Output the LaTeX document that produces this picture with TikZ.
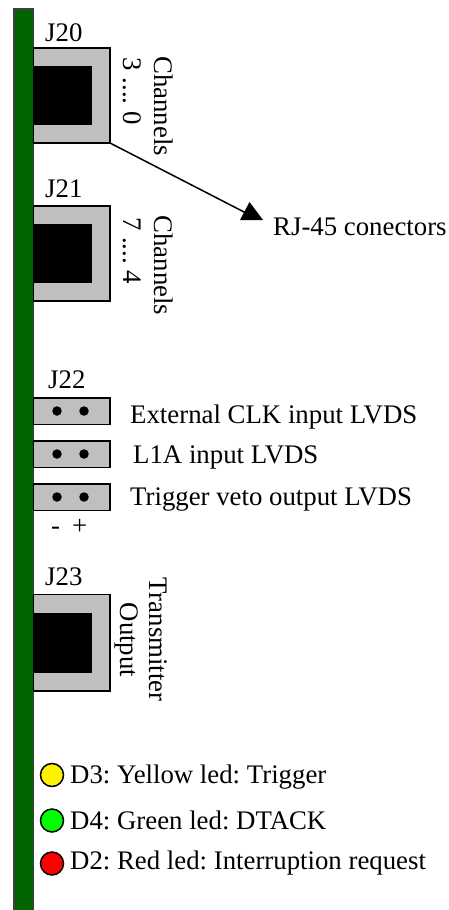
\documentclass[tikz,border=0pt]{standalone}
\usepackage{fontspec}
\setmainfont{Liberation Serif}
\tikzset{
  board/.style={draw=black!75,line width=1.4pt},
  shell/.style={draw=black,line width=1.5pt,fill=black!25},
  hole/.style={fill=black},
  pin/.style={circle,fill=black,inner sep=0pt,minimum size=9.5pt},
  led/.style={circle,draw=black,line width=1.5pt,inner sep=0pt,minimum size=23pt},
  lab/.style={font=\fontsize{26.8}{28}\selectfont\frenchspacing,inner sep=0pt,anchor=base west},
  vlab/.style={font=\fontsize{26.8}{28}\selectfont\frenchspacing,inner sep=0pt,rotate=-90,anchor=center},
}
\definecolor{boardgreen}{RGB}{0,100,0}
\begin{document}
\begin{tikzpicture}[x=1pt,y=-1pt]
\useasboundingbox (0,0) rectangle (448,910);
\fill[white] (0,0) rectangle (448,910);
\path[board,fill=boardgreen] (14,912) -- (14,9) -- (33.5,9) -- (33.5,912);
% J20
\draw[shell] (33.5,48) rectangle (110,143);
\fill[hole] (33.5,66) rectangle (92,125);
\coordinate (j20c) at (110,143);
% J21
\draw[shell] (33.5,206) rectangle (110,301);
\fill[hole] (33.5,224) rectangle (92,283);
% J22
\draw[shell] (33.5,398) rectangle (110,424.5);
\draw[shell] (33.5,441) rectangle (110,467.5);
\draw[shell] (33.5,484) rectangle (110,510.5);
\foreach \y/\n in {411/a,454/b,497/c}{
  \node[pin] (p\n1) at (57,\y) {};
  \node[pin] (p\n2) at (84,\y) {};
}
% J23
\draw[shell] (33.5,594.5) rectangle (110,691);
\fill[hole] (33.5,613) rectangle (92,672.5);
% labels
\node[lab] (j20) at (45,41) {J20};
\node[lab] (j21) at (45,197) {J21};
\node[lab] (j22) at (48,388) {J22};
\node[lab] (j23) at (45,585) {J23};
\node[vlab] (ch0) at (163.5,106) {Channels};
\node[vlab] (ch1) at (163.5,265.5) {Channels};
\node[vlab] (r0) at (132,91) {3 .... 0};
\node[vlab] (r1) at (132,250.5) {7 .... 4};
\node[vlab] (tx) at (158.5,639.5) {Transmitter};
\node[vlab] (out) at (126.5,640) {Output};
\node[lab] (rj) at (273,235) {RJ-45 conectors};
\node[lab] (l1) at (130,423) {External CLK input LVDS};
\node[lab] (l2) at (133,463) {L1A input LVDS};
\node[lab] (l3) at (130,505) {Trigger veto output LVDS};
\node[lab] (minus) at (51,534) {-};
\node[lab] (plus) at (72,534) {+};
% arrow
\coordinate (tip) at (246,213);
\draw[line width=1.5pt] (j20c) -- (tip);
\fill (240,220) -- (249.5,202) -- (263,220) -- cycle;
% leds
\node[led,fill=yellow] (d3) at (52,775) {};
\node[led,fill=green] (d4) at (52,820.5) {};
\node[led,fill=red] (d2) at (52,863.5) {};
\node[lab] (t3) at (70,783.5) {D3: Yellow led: Trigger};
\node[lab] (t4) at (70,829) {D4: Green led: DTACK};
\node[lab] (t2) at (70,869) {D2: Red led: Interruption request};
\end{tikzpicture}
\end{document}
